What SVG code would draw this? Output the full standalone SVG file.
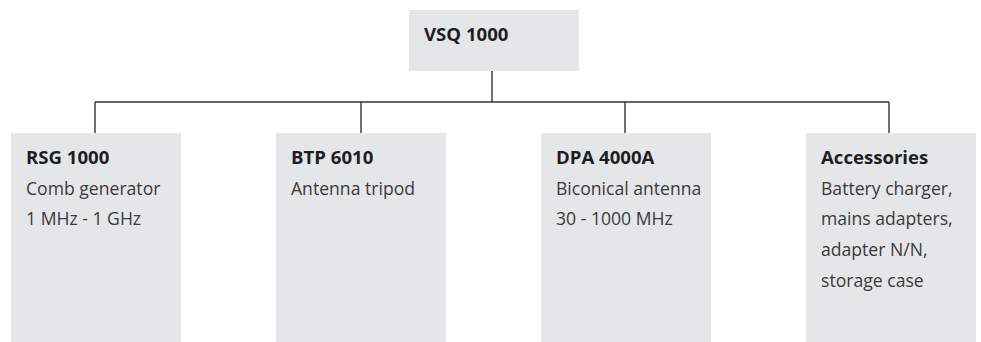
<svg xmlns="http://www.w3.org/2000/svg" width="981" height="342" viewBox="0 0 981 342">
<style>
.box{fill:#e5e6e8}
.t{font-family:"Open Sans","Noto Sans",sans-serif;font-size:17.6px;fill:#3a3a3a}
.b{font-weight:bold;font-size:18.6px;fill:#1e1e22}
.c{fill:none;stroke:#333;stroke-width:1.4}
</style>
<rect width="981" height="342" fill="#fff"/>
<g id="connectors">
<path class="c" d="M492 71V102M95 102H889M95 102V133M361 102V133M625 102V133M889 102V133"/>
</g>
<g id="vsq1000">
<rect class="box" x="409" y="10" width="170" height="61"/>
<text class="t b" x="424" y="41">VSQ 1000</text>
</g>
<g id="rsg1000">
<rect class="box" x="11" y="133" width="170" height="209"/>
<text class="t b" x="26" y="164">RSG 1000</text>
<text class="t" x="26" y="195">Comb generator</text>
<text class="t" x="26" y="225">1 MHz - 1 GHz</text>
</g>
<g id="btp6010">
<rect class="box" x="276" y="133" width="170" height="209"/>
<text class="t b" x="291" y="164">BTP 6010</text>
<text class="t" x="291" y="195">Antenna tripod</text>
</g>
<g id="dpa4000a">
<rect class="box" x="541" y="133" width="170" height="209"/>
<text class="t b" x="556" y="164">DPA 4000A</text>
<text class="t" x="556" y="195">Biconical antenna</text>
<text class="t" x="556" y="225">30 - 1000 MHz</text>
</g>
<g id="accessories">
<rect class="box" x="806" y="133" width="170" height="209"/>
<text class="t b" x="821" y="164">Accessories</text>
<text class="t" x="821" y="195">Battery charger,</text>
<text class="t" x="821" y="225">mains adapters,</text>
<text class="t" x="821" y="256">adapter N/N,</text>
<text class="t" x="821" y="287">storage case</text>
</g>
</svg>
